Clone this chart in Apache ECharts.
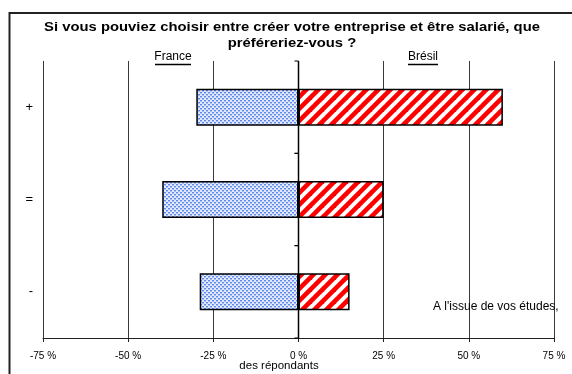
<!DOCTYPE html>
<html>
<head>
<meta charset="utf-8">
<script src="https://cdn.jsdelivr.net/npm/echarts@6/dist/echarts.min.js"></script>
<style>
  html, body { margin: 0; padding: 0; background: #fff; }
  #chart { width: 572px; height: 374px; }
</style>
</head>
<body>
<div id="chart"></div>
<script>
// Answer categories, top to bottom
const categories = ['+', '=', '-'];
// Share of respondents (%), France drawn to the left as negative values
const franceValues = [-30, -40, -29];
const bresilValues = [60, 25, 15];
// Horizontal axis ticks (%)
const tickValues = [-75, -50, -25, 0, 25, 50, 75];

const FONT = '"Liberation Sans", Arial, sans-serif';

// Dotted fill for France
function dotTile() {
  const c = document.createElement('canvas');
  c.width = 4; c.height = 4;
  const g = c.getContext('2d');
  g.fillStyle = '#e2e9fc';
  g.fillRect(0, 0, 4, 4);
  g.fillStyle = '#5f89f0';
  g.fillRect(0, 0, 2, 1);
  g.fillRect(2, 2, 2, 1);
  g.fillStyle = '#a8bff6';
  g.fillRect(0, 1, 2, 1);
  g.fillRect(2, 3, 2, 1);
  return c;
}

// Diagonal red stripes for Brésil
function stripeTile() {
  const p = 12;
  const c = document.createElement('canvas');
  c.width = p; c.height = p;
  const g = c.getContext('2d');
  g.fillStyle = '#ffffff';
  g.fillRect(0, 0, p, p);
  g.strokeStyle = '#ff0000';
  g.lineWidth = 4.6;
  for (let k = -1; k <= 1; k++) {
    g.beginPath();
    g.moveTo(k * p - p, 2 * p);
    g.lineTo(k * p + 2 * p, -p);
    g.stroke();
  }
  return c;
}

const chart = echarts.init(document.getElementById('chart'), null, { renderer: 'canvas' });

const gridLeft = 43, gridRight = 18, gridTop = 61, gridBottom = 36;

// Zero line with small ticks at the category boundaries
function renderZeroAxis(params, api) {
  const p = api.coord([0, api.value(1)]);
  const h = api.size([0, 1])[1];
  const top = p[1] - h / 2, bottom = p[1] + h / 2;
  const stroke = { stroke: '#000', lineWidth: 1.5 };
  return {
    type: 'group',
    children: [
      { type: 'line', shape: { x1: p[0], y1: top, x2: p[0], y2: bottom }, style: stroke },
      { type: 'line', shape: { x1: p[0] - 4, y1: top, x2: p[0], y2: top }, style: { stroke: '#000', lineWidth: 1 } },
      { type: 'line', shape: { x1: p[0] - 4, y1: bottom, x2: p[0], y2: bottom }, style: { stroke: '#000', lineWidth: 1 } }
    ]
  };
}

chart.setOption({
  animation: false,
  backgroundColor: '#ffffff',
  grid: { left: gridLeft, right: gridRight, top: gridTop, bottom: gridBottom, containLabel: false },
  xAxis: {
    type: 'value',
    min: tickValues[0],
    max: tickValues[tickValues.length - 1],
    interval: 25,
    axisLine: { show: true, onZero: false, lineStyle: { color: '#222', width: 1 } },
    axisTick: { show: true, length: 4, lineStyle: { color: '#222' } },
    axisLabel: {
      color: '#000', fontSize: 10, fontFamily: FONT, margin: 13,
      formatter: v => v + ' %'
    },
    splitLine: { show: true, lineStyle: { color: '#3a3a3a', width: 1 } }
  },
  yAxis: {
    type: 'category',
    data: categories,
    inverse: true,
    axisLine: { show: false },
    axisTick: { show: false },
    axisLabel: { color: '#000', fontSize: 13, fontFamily: FONT, margin: 10 }
  },
  series: [
    {
      name: 'France',
      type: 'bar',
      stack: 'pays',
      barWidth: '40%',
      data: franceValues,
      itemStyle: {
        color: { image: dotTile(), repeat: 'repeat' },
        borderColor: '#000', borderWidth: 1.5
      }
    },
    {
      name: 'Brésil',
      type: 'bar',
      stack: 'pays',
      barWidth: '40%',
      data: bresilValues,
      itemStyle: {
        color: { image: stripeTile(), repeat: 'repeat' },
        borderColor: '#000', borderWidth: 1.5
      }
    },
    {
      name: 'zero',
      type: 'custom',
      silent: true,
      z: 5,
      renderItem: renderZeroAxis,
      encode: { x: 0, y: 1 },
      data: categories.map((c, i) => [0, i])
    }
  ],
  graphic: [
    // Frame around the chart
    {
      type: 'rect', silent: true, z: 100,
      shape: { x: 9.5, y: 13, width: 620, height: 420 },
      style: { fill: 'none', stroke: '#222', lineWidth: 2 }
    },
    {
      type: 'text', z: 100, x: 292, y: 27, scaleX: 1.14,
      style: {
        text: 'Si vous pouviez choisir entre créer votre entreprise et être salarié, que',
        font: 'bold 13px ' + FONT, fill: '#000', textAlign: 'center', textVerticalAlign: 'middle'
      }
    },
    {
      type: 'text', z: 100, x: 292, y: 43, scaleX: 1.14,
      style: {
        text: 'préféreriez-vous ?',
        font: 'bold 13px ' + FONT, fill: '#000', textAlign: 'center', textVerticalAlign: 'middle'
      }
    },
    {
      type: 'text', z: 100, x: 173, y: 57,
      style: { text: 'France', font: '12px ' + FONT, fill: '#000', textAlign: 'center', textVerticalAlign: 'middle' }
    },
    {
      type: 'line', z: 100,
      shape: { x1: 155, y1: 64.5, x2: 191, y2: 64.5 },
      style: { stroke: '#000', lineWidth: 1.5 }
    },
    {
      type: 'text', z: 100, x: 423, y: 57,
      style: { text: 'Brésil', font: '12px ' + FONT, fill: '#000', textAlign: 'center', textVerticalAlign: 'middle' }
    },
    {
      type: 'line', z: 100,
      shape: { x1: 408, y1: 64.5, x2: 438, y2: 64.5 },
      style: { stroke: '#000', lineWidth: 1.5 }
    },
    {
      type: 'text', z: 100, x: 433, y: 307,
      style: { text: "A l'issue de vos études,", font: '12px ' + FONT, fill: '#000', textAlign: 'left', textVerticalAlign: 'middle' }
    },
    {
      type: 'text', z: 100, x: 279, y: 366,
      style: { text: 'des répondants', font: '11.5px ' + FONT, fill: '#000', textAlign: 'center', textVerticalAlign: 'middle' }
    }
  ]
});
</script>
</body>
</html>
